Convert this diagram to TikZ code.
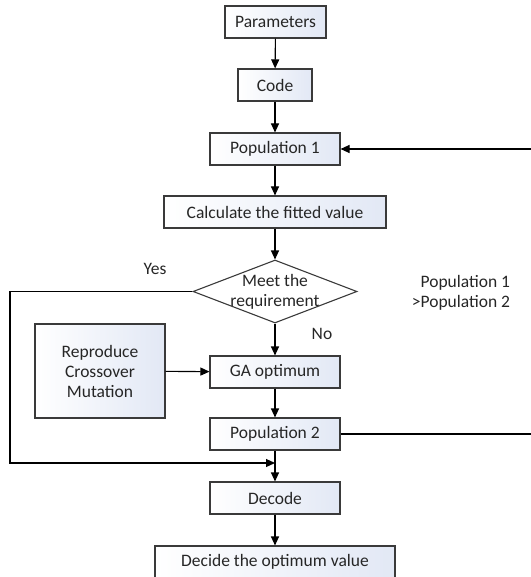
\documentclass[tikz,border=0pt]{standalone}
\usepackage{fontspec}
\setmainfont{Carlito}
\usetikzlibrary{arrows.meta,shapes.geometric}
\definecolor{edge}{HTML}{3A3A3A}
\definecolor{shadeblue}{HTML}{E2E8F5}
\tikzset{
  box/.style={draw=edge, line width=1.1pt, left color=white, right color=shadeblue,
    minimum height=32pt, inner sep=2pt, font=\fontsize{17.5}{20}\selectfont, text=black!85},
  dia/.style={draw=edge, line width=1.1pt, fill=white, diamond, aspect=2.6, inner sep=0pt,
    minimum width=164pt, minimum height=63pt},
  lab/.style={font=\fontsize{17.5}{20}\selectfont, text=black!85},
  conn/.style={draw=black, line width=1.1pt},
  arr/.style={conn, -{Triangle[length=9pt,width=8pt]}}
}
\begin{document}
\begin{tikzpicture}[x=1pt,y=-1pt]
\useasboundingbox (0,0) rectangle (530,577);
\node[box, minimum width=101pt] (par) at (275.5,22) {Parameters};
\node[box, minimum width=74pt] (code) at (275,85) {Code};
\node[box, minimum width=130pt] (pop1) at (275,149) {Population 1};
\node[box, minimum width=222pt] (calc) at (275,212) {Calculate the fitted value};
\node[dia, label={[lab, align=center, inner sep=0pt]center:Meet the\\requirement}] (meet) at (275,291.5) {};
\node[box, minimum width=130pt, minimum height=94pt, align=center] (rep) at (100,371) {Reproduce\\Crossover\\Mutation};
\node[box, minimum width=130pt] (ga) at (275,372) {GA optimum};
\node[box, minimum width=130pt] (pop2) at (275,434) {Population 2};
\node[box, minimum width=130pt] (dec) at (275,498) {Decode};
\node[box, minimum width=240pt] (opt) at (275,562) {Decide the optimum value};
\node[lab] (yes) at (155,269) {Yes};
\node[lab] (no) at (322,334) {No};
\node[lab, align=right] (cmp) at (461,293) {Population 1\\>Population 2};
\coordinate (ytl) at (10,291.5);
\coordinate (ybl) at (10,463);
\coordinate (yend) at (275,463);
\coordinate (rtop) at (532,149);
\coordinate (rbot) at (532,434);
\draw[arr] (par) -- (code);
\draw[arr] (code) -- (pop1);
\draw[arr] (pop1) -- (calc);
\draw[arr] (calc) -- (meet);
\draw[arr] (meet) -- (ga);
\draw[arr] (rep) -- (ga);
\draw[arr] (ga) -- (pop2);
\draw[arr] (pop2) -- (dec);
\draw[arr] (dec) -- (opt);
\draw[arr] (meet.west) -- (ytl) -- (ybl) -- (yend);
\draw[arr] (pop2.east) -- (rbot) -- (rtop) -- (pop1.east);
\end{tikzpicture}
\end{document}
